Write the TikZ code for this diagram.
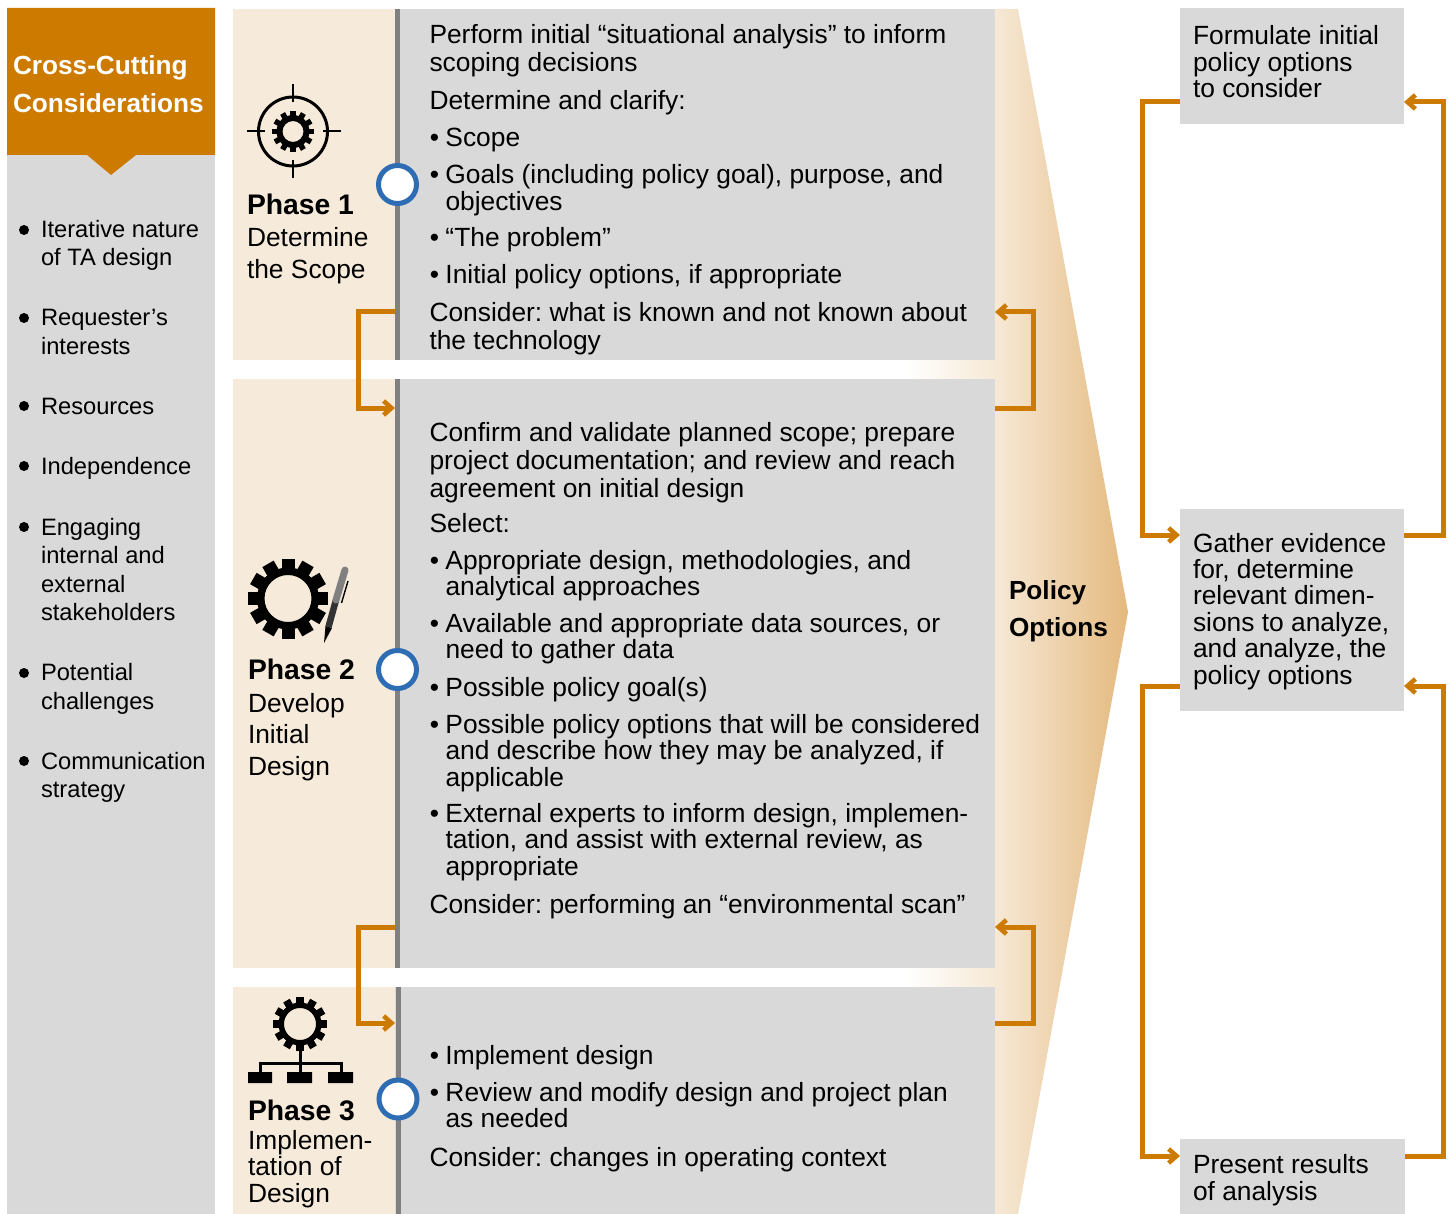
\documentclass[tikz,border=0pt]{standalone}
\usepackage{fontspec}
\setmainfont{Liberation Sans}
\usetikzlibrary{arrows.meta,calc}
\definecolor{panelgrey}{HTML}{D9D9D9}
\definecolor{beige}{HTML}{F6EBDB}
\definecolor{orng}{HTML}{CC7A00}
\definecolor{bargrey}{HTML}{808080}
\definecolor{ringblue}{HTML}{2E6DB4}
\definecolor{fadeL}{HTML}{F6E9D6}
\definecolor{fadeR}{HTML}{E4B97E}
\newcommand{\bu}{\llap{•\kern6.5pt}}
\newcommand{\gearicon}[6]{% cx cy outer root hole toothw
  \fill[even odd rule] (#1,#2) circle[radius=#4] (#1,#2) circle[radius=#5];
  \foreach \a in {0,30,...,330}{\fill[shift={(#1,#2)},rotate=\a] (-#6/2,#4-1) rectangle (#6/2,#3);}
}
\tikzset{
  box/.style={inner sep=0pt,outer sep=0pt,draw=none,anchor=north west},
  txt/.style={inner sep=0pt,outer sep=0pt,anchor=base west,align=left,text=black},
  lead/.style={font=\frenchspacing\fontsize{26.35}{#1}\selectfont},
  leadsmall/.style={font=\frenchspacing\fontsize{23.7}{#1}\selectfont},
  leadbold/.style={font=\bfseries\fontsize{#1}{#1}\selectfont},
  conn/.style={draw=orng,line width=5pt,line join=miter},
  connarrow/.style={conn,-{Straight Barb[length=8pt,width=14pt,line width=4.5pt]}},
  ring/.style={circle,draw=ringblue,fill=white,line width=5pt,minimum size=38pt,inner sep=0pt},
  dot/.style={circle,fill=black,minimum size=10pt,inner sep=0pt},
}
\begin{document}
\begin{tikzpicture}[x=1pt,y=-1pt]
\useasboundingbox (0,0) rectangle (1450,1214);
\fill[white] (0,0) rectangle (1450,1214);
% left column
\node[box,fill=panelgrey,minimum width=208pt,minimum height=1059pt] (leftpanel) at (7,155) {};
\fill[orng] (7,8) -- (215,8) -- (215,155) -- (136,155) -- (111,175) -- (87,155) -- (7,155) -- cycle;
\node[txt,leadbold=26.2,text=white] (cross1) at (13,75) {Cross-Cutting};
\node[txt,leadbold=26.2,text=white] (cross2) at (13,113) {Considerations};
% list
\foreach \n/\y in {a/230,b/318,c/406,d/466,e/527,f/673,g/761}{\node[dot] (dot\n) at (24,\y) {};}
\node[txt,leadsmall=28.5] (la) at (41,266) {Iterative nature\\of TA design};
\node[txt,leadsmall=28.5] (lb) at (41,354) {Requester’s\\interests};
\node[txt,leadsmall=28.5] (lc) at (41,414) {Resources};
\node[txt,leadsmall=28.5] (ld) at (41,474) {Independence};
\node[txt,leadsmall=28.5] (le) at (41,620.5) {Engaging\\internal and\\external\\stakeholders};
\node[txt,leadsmall=28.5] (lf) at (41,709) {Potential\\challenges};
\node[txt,leadsmall=28.5] (lg) at (41,797.5) {Communication\\strategy};
% policy options arrow
\shade[left color=fadeL,right color=fadeR] (995,9) -- (1018,9) -- (1128,612) -- (1018,1214) -- (995,1214) -- cycle;
\shade[left color=white,right color=fadeL] (905,360) rectangle (996,379);
\shade[left color=white,right color=fadeL] (905,968) rectangle (996,987);
% phase bands
\node[box,fill=beige,minimum width=162pt,minimum height=351pt] (beige1) at (233,9) {};
\node[box,fill=beige,minimum width=162pt,minimum height=589pt] (beige2) at (233,379) {};
\node[box,fill=beige,minimum width=162pt,minimum height=227pt] (beige3) at (233,987) {};
\node[box,fill=panelgrey,minimum width=600pt,minimum height=351pt] (panel1) at (395,9) {};
\node[box,fill=panelgrey,minimum width=600pt,minimum height=589pt] (panel2) at (395,379) {};
\node[box,fill=panelgrey,minimum width=600pt,minimum height=227pt] (panel3) at (395,987) {};
\node[box,fill=bargrey,minimum width=5pt,minimum height=351pt] (bar1) at (394.5,9) {};
\node[box,fill=bargrey,minimum width=5pt,minimum height=589pt] (bar2) at (395,379) {};
\node[box,fill=bargrey,minimum width=5pt,minimum height=227pt] (bar3) at (395.5,987) {};
% connectors between phases
\draw[connarrow] (beige1.east |- 0,312) -- ++(-37,0) |- (beige2.east |- 0,408);
\draw[connarrow] (panel2.east |- 0,408) -- ++(38,0) |- (panel1.east |- 0,312);
\draw[connarrow] (beige2.east |- 0,927) -- ++(-37,0) |- (beige3.east |- 0,1023);
\draw[connarrow] (panel3.east |- 0,1023) -- ++(38,0) |- (panel2.east |- 0,927);
% rings
\node[ring] (ring1) at (397.5,184.5) {};
\node[ring] (ring2) at (397.5,669.5) {};
\node[ring] (ring3) at (398,1099) {};
% phase 1 icon
\draw[black,line width=3pt] (293,131.5) circle[radius=34.5];
\draw[black,line width=2pt] (247,131.5) -- (265,131.5) (323,131.5) -- (341,131.5) (293,84) -- (293,102) (293,160) -- (293,178);
\gearicon{293}{131.5}{20.8}{16.5}{10.5}{5.5}
% phase 2 icon
\gearicon{288}{598.5}{40}{31}{23.5}{13}
\fill[black] (324,643) -- (325.5,626) -- (332,628) -- cycle;
\draw[black!80,line width=6.5pt] (328.5,627) -- (336,600);
\draw[black!50,line width=7pt,line cap=round] (336,600) -- (345,570);
\draw[black,line width=1.4pt] (348,581) -- (341.5,603);
% phase 3 icon
\gearicon{300}{1024}{27}{21.5}{16}{7.5}
\draw[black,line width=3pt] (300,1048) -- (300,1075) (260,1075) -- (260,1063) -- (341,1063) -- (341,1075);
\fill[black] (248,1072) rectangle (272,1083) (287,1072) rectangle (312,1083) (328,1072) rectangle (353,1083);
% phase labels
\node[txt,leadbold=28.3] (ph1) at (247,215) {Phase 1};
\node[txt,lead=32] (ph1t) at (247,278.5) {Determine\\the Scope};
\node[txt,leadbold=28.3] (ph2) at (248,679) {Phase 2};
\node[txt,lead=31.5] (ph2t) at (248,775) {Develop\\Initial\\Design};
\node[txt,leadbold=28.3] (ph3) at (248,1120) {Phase 3};
\node[txt,lead=26.5] (ph3t) at (248,1202) {Implemen-\\tation of\\Design};
% phase 1 text
\node[txt,lead=28] (t11) at (429.5,71.7) {Perform initial “situational analysis” to inform\\scoping decisions};
\node[txt,lead=27] (t12) at (429.5,109.7) {Determine and clarify:};
\node[txt,lead=27] (t13) at (445.5,146.7) {\bu Scope};
\node[txt,lead=27] (t14) at (445.5,210.7) {\bu Goals (including policy goal), purpose, and\\objectives};
\node[txt,lead=27] (t15) at (445.5,246.7) {\bu “The problem”};
\node[txt,lead=27] (t16) at (445.5,283.7) {\bu Initial policy options, if appropriate};
\node[txt,lead=28] (t17) at (429.5,349) {Consider: what is known and not known about\\the technology};
% phase 2 text
\node[txt,lead=28] (t21) at (429.5,497) {Confirm and validate planned scope; prepare\\project documentation; and review and reach\\agreement on initial design};
\node[txt,lead=27] (t22) at (429.5,532) {Select:};
\node[txt,lead=26.5] (t23) at (445.5,595.5) {\bu Appropriate design, methodologies, and\\analytical approaches};
\node[txt,lead=26.5] (t24) at (445.5,658.5) {\bu Available and appropriate data sources, or\\need to gather data};
\node[txt,lead=26.5] (t25) at (445.5,696) {\bu Possible policy goal(s)};
\node[txt,lead=26.5] (t26) at (445.5,786) {\bu Possible policy options that will be considered\\and describe how they may be analyzed, if\\applicable};
\node[txt,lead=26.5] (t27) at (445.5,875) {\bu External experts to inform design, implemen-\\tation, and assist with external review, as\\appropriate};
\node[txt,lead=27] (t28) at (429.5,913) {Consider: performing an “environmental scan”};
% phase 3 text
\node[txt,lead=26.5] (t31) at (445.5,1064) {\bu Implement design};
\node[txt,lead=26.5] (t32) at (445.5,1127.5) {\bu Review and modify design and project plan\\as needed};
\node[txt,lead=27] (t33) at (429.5,1166) {Consider: changes in operating context};
% policy options
\node[txt,leadbold=26.2] (po1) at (1009,599) {Policy};
\node[txt,leadbold=26.2] (po2) at (1009,636) {Options};
% right boxes
\node[box,fill=panelgrey,minimum width=224pt,minimum height=116pt] (box1) at (1180,8) {};
\node[box,fill=panelgrey,minimum width=224pt,minimum height=202pt] (box2) at (1180,509) {};
\node[box,fill=panelgrey,minimum width=225pt,minimum height=75pt] (box3) at (1180,1139) {};
\node[txt,lead=26.5] (rt1) at (1193,98) {Formulate initial\\policy options\\to consider};
\node[txt,lead=26.4] (rt2) at (1193,684) {Gather evidence\\for, determine\\relevant dimen-\\sions to analyze,\\and analyze, the\\policy options};
\node[txt,lead=27.5] (rt3) at (1193,1200.5) {Present results\\of analysis};
% right connectors
\draw[connarrow] (box1.west |- 0,102) -- ++(-38,0) |- (box2.west |- 0,535);
\draw[connarrow] (box2.east |- 0,535) -- ++(39,0) |- (box1.east |- 0,102);
\draw[connarrow] (box2.west |- 0,686) -- ++(-38,0) |- (box3.west |- 0,1156);
\draw[connarrow] (box3.east |- 0,1156) -- ++(38,0) |- (box2.east |- 0,686);
\end{tikzpicture}
\end{document}
